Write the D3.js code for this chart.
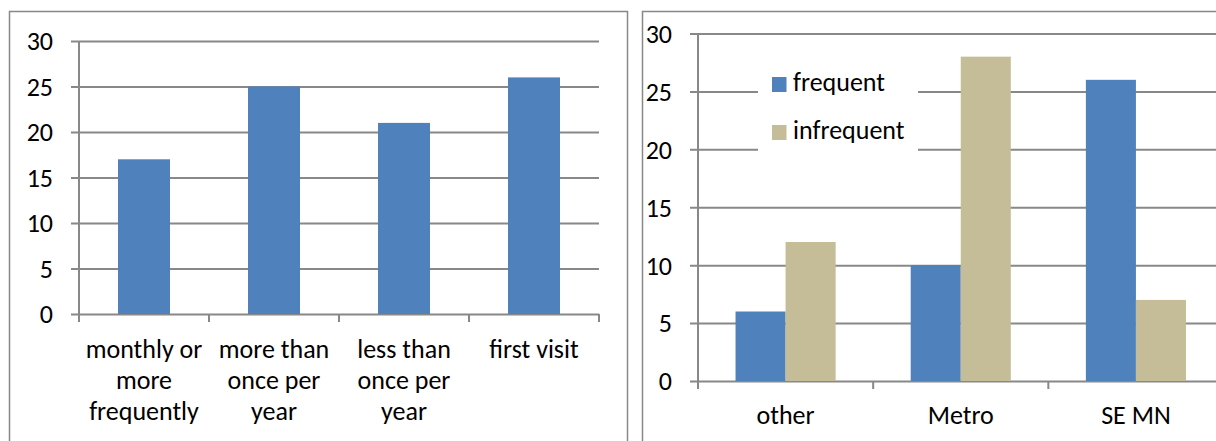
<!DOCTYPE html>
<html>
<head>
<meta charset="utf-8">
<script src="https://cdn.jsdelivr.net/npm/d3@7"></script>
<style>
  body { margin: 0; background: #fff; }
  svg text { font-family: Carlito, Calibri, Lato, sans-serif; fill: #000; }
</style>
</head>
<body>
<div id="chart"></div>
<script>
/////////////////////////////////////////////////////////////
///////////////////////// Data //////////////////////////////
/////////////////////////////////////////////////////////////

//Left chart - visit frequency
var visitCategories = ["monthly or more frequently", "more than once per year", "less than once per year", "first visit"],
    visitLabels = [["monthly or", "more", "frequently"], ["more than", "once per", "year"], ["less than", "once per", "year"], ["first visit"]],
    visitValues = [17, 25, 21, 26];

//Right chart - region by frequent / infrequent
var regionCategories = ["other", "Metro", "SE MN"],
    seriesNames = ["frequent", "infrequent"],
    frequentValues = [6, 10, 26],
    infrequentValues = [12, 28, 7];

var yTicks = [0, 5, 10, 15, 20, 25, 30];

var blue = "#4F81BD",
    tan = "#C4BD97",
    gridColor = "#888888",
    fontSize = 26;

var svg = d3.select("#chart").append("svg")
    .attr("width", 1216)
    .attr("height", 441);

//Chart area borders (both run off the bottom of the picture)
svg.append("rect")
    .attr("x", 9.5).attr("y", 11.5)
    .attr("width", 618).attr("height", 460)
    .style("fill", "none").style("stroke", gridColor).style("stroke-width", 1.5);
svg.append("rect")
    .attr("x", 642.5).attr("y", 11.5)
    .attr("width", 640).attr("height", 460)
    .style("fill", "none").style("stroke", gridColor).style("stroke-width", 1.5);

/////////////////////////////////////////////////////////////
///////////////////// Shared axis helper ////////////////////
/////////////////////////////////////////////////////////////

function drawFrame(g, x, y) {
    var x0 = x.range()[0], x1 = x.range()[1], base = y(0);

    //Gridlines + y tick marks + labels
    var yAxis = d3.axisLeft(y)
        .tickValues(yTicks)
        .tickSizeInner(-(x1 - x0 + 8))
        .tickSizeOuter(0)
        .tickPadding(18);
    var ya = g.append("g")
        .attr("transform", "translate(" + (x0 - 8) + ",0)")
        .call(yAxis);
    ya.select(".domain").remove();
    ya.selectAll("line").style("stroke", gridColor).style("stroke-width", 2);
    ya.selectAll("text").style("font-size", fontSize + "px").attr("dy", "0.34em");

    //Vertical axis line
    g.append("line")
        .attr("x1", x0).attr("x2", x0)
        .attr("y1", y(30)).attr("y2", base + 8)
        .style("stroke", gridColor).style("stroke-width", 2);

    //Category boundary ticks
    var bounds = x.domain().map(function(d) { return x(d); }).concat([x1]);
    g.selectAll(".catTick")
        .data(bounds)
        .enter().append("line")
        .attr("class", "catTick")
        .attr("x1", function(d) { return d; })
        .attr("x2", function(d) { return d; })
        .attr("y1", base).attr("y2", base + 8)
        .style("stroke", gridColor).style("stroke-width", 2);
}

/////////////////////////////////////////////////////////////
//////////////////////// Left chart /////////////////////////
/////////////////////////////////////////////////////////////

var gL = svg.append("g");
var xL = d3.scaleBand().domain(visitCategories).range([79, 599]),
    yL = d3.scaleLinear().domain([0, 30]).range([314, 41]);

drawFrame(gL, xL, yL);

var barWL = xL.bandwidth() / 2.5;
gL.selectAll(".bar")
    .data(visitValues)
    .enter().append("rect")
    .attr("class", "bar")
    .attr("x", function(d, i) { return xL(visitCategories[i]) + (xL.bandwidth() - barWL) / 2; })
    .attr("y", function(d) { return yL(d); })
    .attr("width", barWL)
    .attr("height", function(d) { return yL(0) - yL(d); })
    .style("fill", blue);

//Wrapped category labels
var labL = gL.selectAll(".catLabel")
    .data(visitLabels)
    .enter().append("text")
    .attr("class", "catLabel")
    .attr("text-anchor", "middle")
    .style("font-size", fontSize + "px");
labL.selectAll("tspan")
    .data(function(d, i) { return d.map(function(t) { return {t: t, i: i}; }); })
    .enter().append("tspan")
    .attr("x", function(d) { return xL(visitCategories[d.i]) + xL.bandwidth() / 2; })
    .attr("y", function(d, j) { return yL(0) + 44 + j * 31; })
    .text(function(d) { return d.t; });

/////////////////////////////////////////////////////////////
//////////////////////// Right chart ////////////////////////
/////////////////////////////////////////////////////////////

var gR = svg.append("g");
var xR = d3.scaleBand().domain(regionCategories).range([698, 1223.5]),
    yR = d3.scaleLinear().domain([0, 30]).range([381, 33.5]);

drawFrame(gR, xR, yR);

var barWR = xR.bandwidth() / 3.5;
var xS = d3.scaleBand().domain(seriesNames).range([0, barWR * 2]);
var seriesValues = [frequentValues, infrequentValues],
    seriesColors = [blue, tan];

seriesValues.forEach(function(vals, s) {
    gR.selectAll(".bar" + s)
        .data(vals)
        .enter().append("rect")
        .attr("class", "bar" + s)
        .attr("x", function(d, i) { return xR(regionCategories[i]) + barWR * 0.75 + xS(seriesNames[s]); })
        .attr("y", function(d) { return yR(d); })
        .attr("width", xS.bandwidth())
        .attr("height", function(d) { return yR(0) - yR(d); })
        .style("fill", seriesColors[s]);
});

gR.selectAll(".catLabel")
    .data(regionCategories)
    .enter().append("text")
    .attr("class", "catLabel")
    .attr("text-anchor", "middle")
    .attr("x", function(d) { return xR(d) + xR.bandwidth() / 2; })
    .attr("y", yR(0) + 43)
    .style("font-size", fontSize + "px")
    .text(function(d) { return d; });

//Legend sits on a white box over the gridlines
var legend = gR.append("g").attr("transform", "translate(758,62)");
legend.append("rect")
    .attr("width", 160).attr("height", 98)
    .style("fill", "#fff");
var item = legend.selectAll(".legendItem")
    .data(seriesNames)
    .enter().append("g")
    .attr("class", "legendItem")
    .attr("transform", function(d, i) { return "translate(14," + (15 + i * 48) + ")"; });
item.append("rect")
    .attr("width", 14.5).attr("height", 15)
    .style("fill", function(d, i) { return seriesColors[i]; });
item.append("text")
    .attr("x", 21)
    .attr("y", 14)
    .style("font-size", fontSize + "px")
    .text(function(d) { return d; });
</script>
</body>
</html>
